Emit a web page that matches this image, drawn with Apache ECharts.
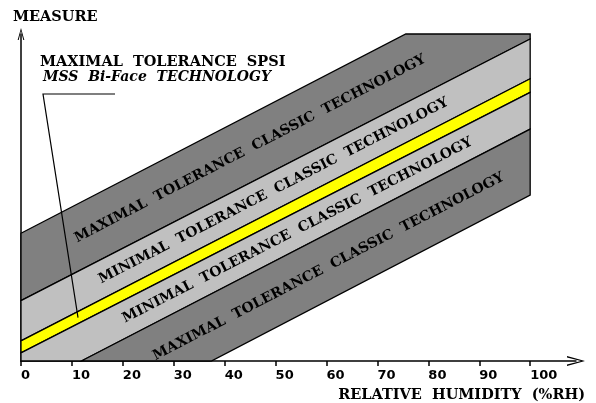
<!DOCTYPE html>
<html>
<head>
<meta charset="utf-8">
<script src="https://cdn.jsdelivr.net/npm/echarts@6/dist/echarts.min.js"></script>
<style>
	html, body { margin: 0; padding: 0; background: #fff; }
	#chart { width: 596px; height: 403px; }
</style>
</head>
<body>
<div id="chart"></div>
<script>
// x (%RH) where each boundary is read
const xEnds = [0, 100];
// boundary lines of the tolerance bands: value at x=0 and at x=100
const outerTop = [25.4, 77.8];
const innerTop = [12.0, 64.0];
const yellowTop = [4.0, 56.1];
const yellowBottom = [1.6, 53.4];
const innerBottom = [-6.2, 46.1];
const outerBottom = [-19.7, 33.0];
const xTicks = [0, 10, 20, 30, 40, 50, 60, 70, 80, 90, 100];
const measureMax = 65;
// bands from top to bottom
const bandEdges = [[outerTop, innerTop], [innerTop, yellowTop], [yellowTop, yellowBottom], [yellowBottom, innerBottom], [innerBottom, outerBottom]];
const bandNames = ['MAXIMAL  TOLERANCE  CLASSIC  TECHNOLOGY', 'MINIMAL  TOLERANCE  CLASSIC  TECHNOLOGY', '', 'MINIMAL  TOLERANCE  CLASSIC  TECHNOLOGY', 'MAXIMAL  TOLERANCE  CLASSIC  TECHNOLOGY'];
const spsiLabel = ['MAXIMAL  TOLERANCE  SPSI', 'MSS  Bi-Face  TECHNOLOGY'];
const spsiPointX = 11.2;

// styles / layout
const bandColors = ['#808080', '#c0c0c0', '#ffff00', '#c0c0c0', '#808080'];
const labelAtX = [45.0, 49.6, 0, 54.3, 60.4];
const serif = '"DejaVu Serif"';

function lineAt(edge, x) {
    return edge[0] + (edge[1] - edge[0]) * (x - xEnds[0]) / (xEnds[1] - xEnds[0]);
}

// clip polygon (data space) by one axis-aligned limit
function clip(pts, dim, val, keepBelow) {
    const out = [];
    for (let i = 0; i < pts.length; i++) {
        const a = pts[i], b = pts[(i + 1) % pts.length];
        const ina = keepBelow ? a[dim] <= val : a[dim] >= val;
        const inb = keepBelow ? b[dim] <= val : b[dim] >= val;
        if (ina) out.push(a);
        if (ina !== inb) {
            const t = (val - a[dim]) / (b[dim] - a[dim]);
            out.push([a[0] + t * (b[0] - a[0]), a[1] + t * (b[1] - a[1])]);
        }
    }
    return out;
}

let chart = echarts.init(document.getElementById('chart'));

function renderBand(params, api) {
    const i = api.value(0);
    const top = bandEdges[i][0], bot = bandEdges[i][1];
    let pts = [[xEnds[0], top[0]], [xEnds[1], top[1]], [xEnds[1], bot[1]], [xEnds[0], bot[0]]];
    pts = clip(pts, 1, measureMax, true);
    pts = clip(pts, 1, 0, false);
    const children = [{
        type: 'polygon',
        shape: { points: pts.map(p => api.coord(p)) },
        style: { fill: bandColors[i], stroke: '#000', lineWidth: 1.3 }
    }];
    if (bandNames[i]) {
        const lx = labelAtX[i];
        const c = api.coord([lx, (lineAt(top, lx) + lineAt(bot, lx)) / 2]);
        const a = api.coord([xEnds[0], lineAt(top, xEnds[0])]);
        const b = api.coord([xEnds[1], lineAt(top, xEnds[1])]);
        children.push({
            type: 'text',
            x: c[0], y: c[1],
            rotation: Math.atan2(a[1] - b[1], b[0] - a[0]),
            style: {
                text: bandNames[i], fill: '#000',
                font: 'bold 14px ' + serif,
                align: 'center', verticalAlign: 'middle'
            }
        });
    }
    return { type: 'group', children: children };
}

const arrow = 'path://M5,0 L10,18 L8.4,18 L5,4 L1.6,18 L0,18 Z';

let option = {
    animation: false,
    grid: { left: 21, right: 20, top: 34, bottom: 41 },
    xAxis: {
        type: 'value', min: 0, max: 109, interval: 10,
        name: 'RELATIVE  HUMIDITY  (%RH)',
        nameLocation: 'end', nameGap: 9,
        nameTextStyle: {
            align: 'right', verticalAlign: 'top', padding: [27, 0, 0, 0],
            fontFamily: serif, fontWeight: 'bold', fontSize: 14.5, color: '#000'
        },
        axisLine: {
            show: true, symbol: ['none', arrow], symbolSize: [10, 18],
            lineStyle: { color: '#000', width: 1.5 }
        },
        axisTick: { show: true, customValues: xTicks, length: 5, lineStyle: { color: '#000', width: 1.5 } },
        axisLabel: {
            customValues: xTicks, align: 'left', margin: 8,
            fontFamily: 'DejaVu Sans', fontWeight: 'bold', fontSize: 13, color: '#000'
        },
        splitLine: { show: false }
    },
    yAxis: {
        type: 'value', min: 0, max: measureMax,
        name: 'MEASURE', nameLocation: 'end', nameGap: 9,
        nameTextStyle: {
            align: 'left', padding: [0, 0, 0, -8],
            fontFamily: serif, fontWeight: 'bold', fontSize: 14.5, color: '#000'
        },
        axisLine: {
            show: true, symbol: ['none', arrow], symbolSize: [7, 12],
            lineStyle: { color: '#000', width: 1.5 }
        },
        axisTick: { show: false },
        axisLabel: { show: false },
        splitLine: { show: false }
    },
    series: [{
        type: 'custom',
        renderItem: renderBand,
        data: bandEdges.map((e, i) => [i]),
        z: 1
    }]
};
chart.setOption(option);

// pointer from the SPSI note to the yellow band
const tip = chart.convertToPixel({ gridIndex: 0 },
    [spsiPointX, (lineAt(yellowTop, spsiPointX) + lineAt(yellowBottom, spsiPointX)) / 2]);
chart.setOption({
    graphic: [
        {
            type: 'text', x: 40, y: 55,
            style: { text: spsiLabel[0], font: 'bold 14.5px ' + serif, fill: '#000' }
        },
        {
            type: 'text', x: 43, y: 70,
            style: { text: spsiLabel[1], font: 'italic bold 14px ' + serif, fill: '#000' }
        },
        {
            type: 'polyline',
            shape: { points: [[115, 94], [43, 94], tip] },
            style: { stroke: '#000', lineWidth: 1.2, fill: null },
            z: 10
        }
    ]
});

window.addEventListener('resize', function () {
    chart.resize();
});
</script>
</body>
</html>
